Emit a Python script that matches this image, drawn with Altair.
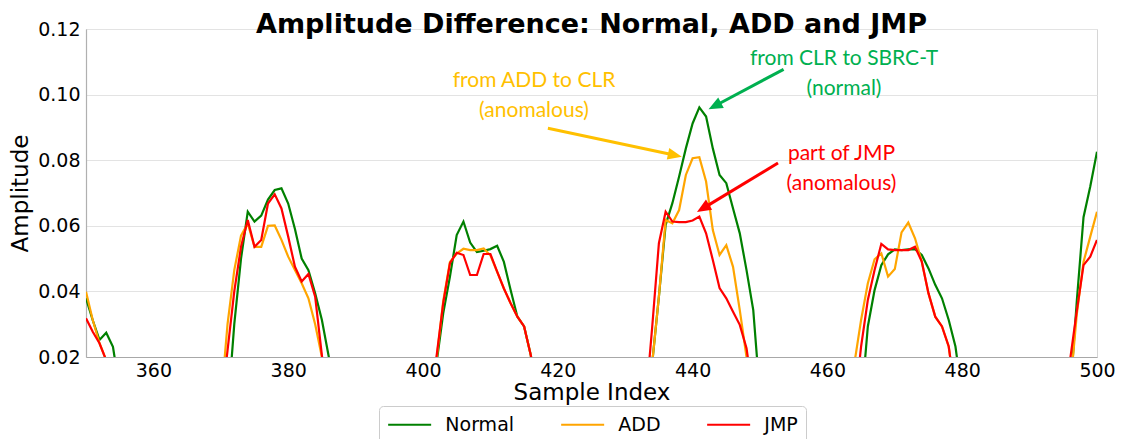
import math
import altair as alt
import pandas as pd

# ---------------- data ----------------
normal_x = [350, 351, 352, 353, 354, 355,
            371, 372, 373, 374, 375, 376, 377, 378, 379, 380, 381, 382, 383, 384, 385, 386, 387,
            401, 402, 403, 404, 405, 406, 407, 408, 409, 410, 411, 412, 413, 414, 415, 416, 417,
            433, 434, 435, 436, 437, 438, 439, 440, 441, 442, 443, 444, 445, 446, 447, 448, 449, 450,
            465, 466, 467, 468, 469, 470, 471, 472, 473, 474, 475, 476, 477, 478, 479, 480,
            496, 497, 498, 499, 500]
normal_y = [0.0379, 0.0312, 0.0252, 0.0274, 0.0231, 0.0100,
            0.0030, 0.0300, 0.0500, 0.0643, 0.0613, 0.0631, 0.0680, 0.0709, 0.0714, 0.0668, 0.0590, 0.0500, 0.0465, 0.0394, 0.0313, 0.0203, 0.0080,
            0.0020, 0.0180, 0.0333, 0.0445, 0.0572, 0.0613, 0.0549, 0.0520, 0.0524, 0.0529, 0.0539, 0.0490, 0.0404, 0.0323, 0.0293, 0.0205, 0.0050,
            0.0030, 0.0180, 0.0384, 0.0603, 0.0669, 0.0750, 0.0836, 0.0912, 0.0961, 0.0933, 0.0836, 0.0755, 0.0730, 0.0653, 0.0577, 0.0465, 0.0343, 0.0080,
            0.0050, 0.0293, 0.0404, 0.0480, 0.0513, 0.0528, 0.0526, 0.0528, 0.0529, 0.0511, 0.0470, 0.0420, 0.0379, 0.0313, 0.0232, 0.0080,
            0.0080, 0.0370, 0.0626, 0.0720, 0.0826]

add_x = [350, 351, 352, 353, 354,
         370, 371, 372, 373, 374, 375, 376, 377, 378, 379, 380, 381, 382, 383, 384, 385, 386,
         401, 402, 403, 404, 405, 406, 407, 408, 409, 410, 411, 412, 413, 414, 415, 416, 417,
         433, 434, 435, 436, 437, 438, 439, 440, 441, 442, 443, 444, 445, 446, 447, 448, 449,
         463, 464, 465, 466, 467, 468, 469, 470, 471, 472, 473, 474, 475, 476, 477, 478, 479,
         496, 497, 498, 499, 500]
add_y = [0.0399, 0.0313, 0.0242, 0.0190, 0.0080,
         0.0060, 0.0300, 0.0465, 0.0570, 0.0607, 0.0536, 0.0536, 0.0600, 0.0601, 0.0557, 0.0506, 0.0465, 0.0425, 0.0379, 0.0300, 0.0200, 0.0060,
         0.0030, 0.0190, 0.0370, 0.0490, 0.0515, 0.0530, 0.0526, 0.0526, 0.0531, 0.0510, 0.0460, 0.0409, 0.0364, 0.0323, 0.0293, 0.0205, 0.0050,
         0.0030, 0.0180, 0.0384, 0.0618, 0.0608, 0.0648, 0.0755, 0.0806, 0.0809, 0.0735, 0.0587, 0.0511, 0.0541, 0.0475, 0.0343, 0.0200, 0.0050,
         0.0030, 0.0180, 0.0313, 0.0425, 0.0498, 0.0516, 0.0445, 0.0468, 0.0580, 0.0610, 0.0562, 0.0491, 0.0394, 0.0323, 0.0293, 0.0232, 0.0080,
         0.0100, 0.0330, 0.0490, 0.0567, 0.0643]

jmp_x = [350, 351, 352, 353, 354,
         370, 371, 372, 373, 374, 375, 376, 377, 378, 379, 380, 381, 382, 383, 384, 385, 386,
         401, 402, 403, 404, 405, 406, 407, 408, 409, 410, 411, 412, 413, 414, 415, 416, 417,
         433, 434, 435, 436, 437, 438, 439, 440, 441, 442, 443, 444, 445, 446, 447, 448, 449,
         464, 465, 466, 467, 468, 469, 470, 471, 472, 473, 474, 475, 476, 477, 478, 479,
         495, 496, 497, 498, 499, 500]
jmp_y = [0.0318, 0.0277, 0.0242, 0.0190, 0.0080,
         0.0040, 0.0220, 0.0400, 0.0536, 0.0618, 0.0536, 0.0557, 0.0668, 0.0696, 0.0653, 0.0567, 0.0475, 0.0430, 0.0453, 0.0384, 0.0205, 0.0050,
         0.0030, 0.0200, 0.0364, 0.0486, 0.0518, 0.0511, 0.0450, 0.0450, 0.0514, 0.0514, 0.0460, 0.0409, 0.0364, 0.0323, 0.0293, 0.0205, 0.0050,
         0.0050, 0.0290, 0.0547, 0.0643, 0.0613, 0.0611, 0.0611, 0.0616, 0.0628, 0.0577, 0.0496, 0.0410, 0.0379, 0.0338, 0.0298, 0.0227, 0.0080,
         0.0040, 0.0232, 0.0374, 0.0465, 0.0545, 0.0528, 0.0526, 0.0526, 0.0526, 0.0536, 0.0491, 0.0394, 0.0323, 0.0293, 0.0232, 0.0080,
         0.0030, 0.0190, 0.0340, 0.0480, 0.0506, 0.0557]

series_names = ["Normal", "ADD", "JMP"]
series_colors = ["green", "orange", "red"]

x_ticks = [360, 380, 400, 420, 440, 460, 480, 500]
y_ticks = [0.02, 0.04, 0.06, 0.08, 0.10, 0.12]

title_text = "Amplitude Difference: Normal, ADD and JMP"

# annotations (data coordinates)
note_text = ["from CLR to SBRC-T", "(normal)", "from ADD to CLR", "(anomalous)", "part of JMP", "(anomalous)"]
note_x = [462.46, 462.46, 416.47, 416.47, 462.09, 462.09]
note_y = [0.10902, 0.09988, 0.10222, 0.09308, 0.08006, 0.07091]
note_color = ["#00B050", "#00B050", "#FFC000", "#FFC000", "#FF0000", "#FF0000"]

arrow_tail_x = [453.50, 418.53, 452.67]
arrow_tail_y = [0.10771, 0.08973, 0.07915]
arrow_tip_x = [442.37, 438.40, 440.65]
arrow_tip_y = [0.09552, 0.08107, 0.06421]
arrow_color = ["#00B050", "#FFC000", "#FF0000"]

# ---------------- build tables ----------------
rows = []
for name, xs, ys in zip(series_names, [normal_x, add_x, jmp_x], [normal_y, add_y, jmp_y]):
    for xv, yv in zip(xs, ys):
        rows.append({"series": name, "Sample Index": xv, "Amplitude": yv})
df = pd.DataFrame(rows)

W, H = 1011, 328
X0, X1, Y0, Y1 = 350, 500, 0.02, 0.12
kx = W / (X1 - X0)
ky = H / (Y1 - Y0)

arr_rows = []
for tx, ty, hx, hy, c in zip(arrow_tail_x, arrow_tail_y, arrow_tip_x, arrow_tip_y, arrow_color):
    dxp = (hx - tx) * kx
    dyp = -(hy - ty) * ky
    L = math.hypot(dxp, dyp)
    ux, uy = dxp / L, dyp / L
    ang = math.degrees(math.atan2(ux, -uy)) % 360
    back = 8.0
    ex = hx - ux * back / kx
    ey = hy + uy * back / ky
    arr_rows.append({"tx": tx, "ty": ty, "ex": ex, "ey": ey, "hx": hx, "hy": hy, "ang": ang, "col": c})
arr = pd.DataFrame(arr_rows)
notes = pd.DataFrame({"x": note_x, "y": note_y, "t": note_text, "col": note_color})

xscale = alt.Scale(domain=[X0, X1], nice=False, zero=False)
yscale = alt.Scale(domain=[Y0, Y1], nice=False, zero=False)

# legend line symbol: path from -1 to 3.6 (scaled by sqrt(size)/2) -> long line, short row
leg_r = 43 / 4.6
leg_size = (2 * leg_r) ** 2

lines = alt.Chart(df).mark_line(clip=True, strokeWidth=2.2).encode(
    x=alt.X("Sample Index:Q", scale=xscale,
            axis=alt.Axis(values=x_ticks, format="d", title="Sample Index", grid=False,
                          ticks=False, labelPadding=4, labelFlush=False,
                          domainColor="#a8a8a8", domainWidth=1.2, titlePadding=1)),
    y=alt.Y("Amplitude:Q", scale=yscale,
            axis=alt.Axis(values=y_ticks, format=".2f", title="Amplitude", grid=True,
                          gridColor="#e3e3e3", gridWidth=1, ticks=False, labelPadding=6,
                          domain=True, domainColor="#b0b0b0", domainWidth=1.2, titlePadding=5)),
    color=alt.Color("series:N", sort=series_names,
                    scale=alt.Scale(domain=series_names, range=series_colors),
                    legend=alt.Legend(title=None, orient="none", legendX=293, legendY=377,
                                      direction="horizontal", columns=3,
                                      symbolType="M-1,0L3.6,0", symbolSize=leg_size,
                                      symbolStrokeWidth=2.2, symbolFillColor="transparent",
                                      labelFontSize=19, labelFont="DejaVu Sans", labelColor="black",
                                      labelOffset=43 + 13 - 2 * leg_r, columnPadding=41, padding=8,
                                      fillColor="white", strokeColor="#cccccc", cornerRadius=4)),
)

shafts = alt.Chart(arr).mark_rule(strokeWidth=3).encode(
    x="tx:Q", y="ty:Q", x2="ex:Q", y2="ey:Q",
    color=alt.Color("col:N", scale=None),
)

heads = alt.Chart(arr).mark_point(shape="M0,0L0.55,1.3L-0.55,1.3Z", filled=True, size=470,
                                  opacity=1, strokeWidth=0).encode(
    x="hx:Q", y="hy:Q",
    angle=alt.Angle("ang:Q", scale=None),
    color=alt.Color("col:N", scale=None),
)

texts = alt.Chart(notes).mark_text(font="Lato", fontSize=21, align="center",
                                    baseline="alphabetic").encode(
    x="x:Q", y="y:Q", text="t:N",
    color=alt.Color("col:N", scale=None),
)

title = alt.Chart(pd.DataFrame({"t": [title_text]})).mark_text(
    font="DejaVu Sans", fontSize=27, fontWeight="bold", align="center",
    baseline="alphabetic", color="black").encode(
    x=alt.value(W / 2), y=alt.value(4), text="t:N")

chart = alt.layer(lines, shafts, heads, texts, title).properties(
    width=W, height=H,
    autosize=alt.AutoSizeParams(type="none"),
    padding={"left": 78, "top": 21, "right": 18, "bottom": 82},
).configure_view(stroke="#d6d6d6", strokeWidth=1).configure_axis(
    labelFont="DejaVu Sans", labelFontSize=19, labelColor="black",
    titleFont="DejaVu Sans", titleFontSize=23, titleFontWeight="normal", titleColor="black",
)

chart.save("out.html", embed_options={"renderer": "svg", "actions": False})
